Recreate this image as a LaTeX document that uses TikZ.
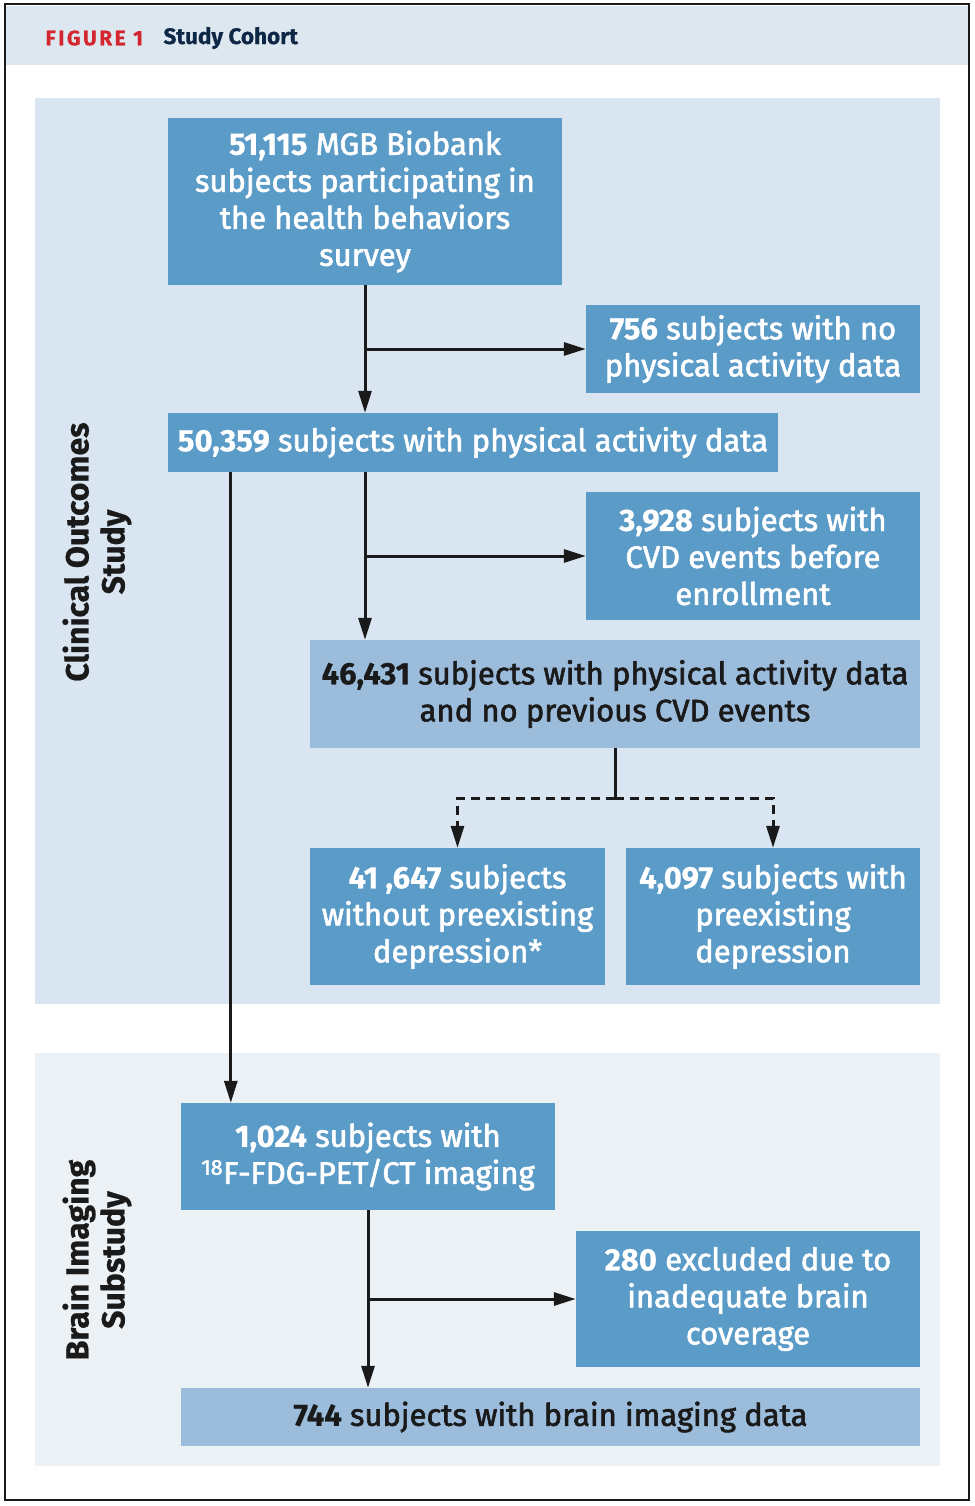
\documentclass[tikz,border=0pt]{standalone}
\usepackage{fontspec}
\setmainfont{Fira Sans}[UprightFeatures={FakeBold=2}, BoldFeatures={FakeBold=0.6}]
\usetikzlibrary{arrows.meta,calc}

\definecolor{boxblue}{HTML}{5B9BC8}
\definecolor{lightbox}{HTML}{9BBCDB}
\definecolor{panelA}{HTML}{D9E5F0}
\definecolor{panelB}{HTML}{ECF1F6}
\definecolor{headbg}{HTML}{DDE7F0}
\definecolor{figred}{HTML}{D4262E}
\definecolor{navy}{HTML}{0F2747}
\definecolor{inkdark}{HTML}{1A1A1A}

\begin{document}
\begin{tikzpicture}[
    x=1pt, y=-1pt,
    cohort/.style={fill=boxblue, text=white, align=center, inner sep=0pt,
                   font=\fontsize{31}{37}\selectfont},
    cohortlight/.style={cohort, fill=lightbox, text=inkdark},
    flowline/.style={line width=3pt, draw=inkdark},
    flow/.style={flowline, -{Triangle[length=22pt, width=13pt]}},
    split/.style={flow, dash pattern=on 9pt off 6pt},
    sidelabel/.style={rotate=90, align=center, text=inkdark,
                      font=\bfseries\fontsize{32}{36}\selectfont},
]
\useasboundingbox (0,0) rectangle (974,1506);

% ---- frame and header ----
\fill[headbg] (6,6) rectangle (968,65);
\draw[line width=2pt, draw=inkdark] (5,4) rectangle (969,1500);
\node[anchor=west, text=figred, font=\bfseries\fontsize{21}{23}\selectfont] (figno) at (42,38)
    {\addfontfeatures{LetterSpace=12}FIGURE 1};
\node[anchor=west, text=navy, font=\bfseries\fontsize{22.5}{24}\selectfont] (figtitle) at (160,38)
    {Study Cohort};

% ---- panels ----
\fill[panelA] (35,98)   rectangle (940,1004);
\fill[panelB] (35,1053) rectangle (940,1466);
\node[sidelabel] (clinlabel)  at (97,552)  {Clinical Outcomes\\Study};
\node[sidelabel] (brainlabel) at (97,1260) {Brain Imaging\\Substudy};

% ---- cohort boxes ----
\node[cohort, minimum width=394pt, minimum height=167pt] (survey) at (365,201.5)
    {\textbf{51,115} MGB Biobank\\subjects participating in\\the health behaviors\\survey};
\node[cohort, minimum width=334pt, minimum height=88pt] (nopa) at (753,349)
    {\textbf{756} subjects with no\\physical activity data};
\node[cohort, minimum width=610pt, minimum height=59pt] (padata) at (473,442.5)
    {\textbf{50,359} subjects with physical activity data};
\node[cohort, minimum width=334pt, minimum height=128pt] (cvdprior) at (753,556)
    {\textbf{3,928} subjects with\\CVD events before\\enrollment};
\node[cohortlight, minimum width=610pt, minimum height=108pt] (cvdfree) at (615,694)
    {\textbf{46,431} subjects with physical activity data\\and no previous CVD events};
\node[cohort, minimum width=295pt, minimum height=137pt] (nodep) at (457.5,916.5)
    {\textbf{41 ,647} subjects\\without preexisting\\depression*};
\node[cohort, minimum width=294pt, minimum height=137pt] (dep) at (773,916.5)
    {\textbf{4,097} subjects with\\preexisting\\depression};
\node[cohort, minimum width=374pt, minimum height=107pt] (pet) at (368,1156.5)
    {\textbf{1,024} subjects with\\\textsuperscript{18}F-FDG-PET/CT imaging};
\node[cohort, minimum width=344pt, minimum height=136pt] (excl) at (748,1299)
    {\textbf{280} excluded due to\\inadequate brain\\coverage};
\node[cohortlight, minimum width=739pt, minimum height=58pt] (brain) at (550.5,1417)
    {\textbf{744} subjects with brain imaging data};

% ---- connectors ----
\draw[flow] (survey.south) -- (survey.south |- padata.north);
\draw[flow] (survey.south |- nopa.west) -- (nopa.west);

\coordinate (paout) at (survey.south |- padata.south);
\draw[flow] (paout) -- (paout |- cvdfree.north);
\draw[flow] (paout |- cvdprior.west) -- (cvdprior.west);

\coordinate (petout) at ($(padata.south west)+(63,0)$);
\draw[flow] (petout) -- (petout |- pet.north);

\draw[flowline] (cvdfree.south) -- ++(0,50) coordinate (fork);
\draw[split] (fork) -| (nodep.north);
\draw[split] (fork) -| (dep.north);

\draw[flow] (pet.south) -- (pet.south |- brain.north);
\draw[flow] (pet.south |- excl.west) -- (excl.west);

\end{tikzpicture}
\end{document}
